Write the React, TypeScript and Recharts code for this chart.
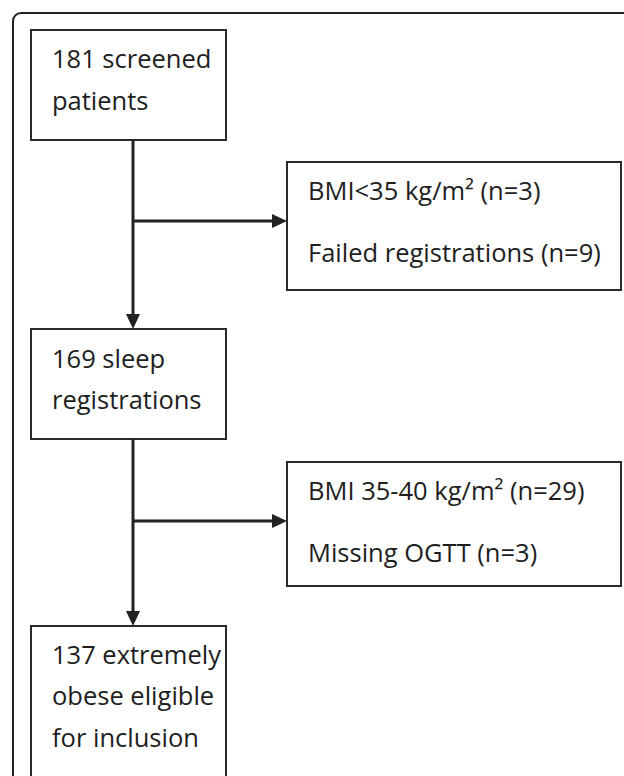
import React from "react"
import { ScatterChart, Scatter, XAxis, YAxis, ReferenceArea, ReferenceLine } from "recharts"

const W = 624
const H = 776

// flow boxes, in page units (x to the right, y downward)
const BOXES = [
  { id: "screened", x1: 31, x2: 226, y1: 30, y2: 140 },
  { id: "excluded1", x1: 287, x2: 621, y1: 162, y2: 290 },
  { id: "sleep", x1: 31, x2: 226, y1: 329, y2: 439 },
  { id: "excluded2", x1: 287, x2: 621, y1: 462, y2: 586 },
  { id: "eligible", x1: 31, x2: 226, y1: 626, y2: 800 },
]

const LINES = [
  { id: "v1", x: 133, y: 140, x2: 133, y2: 318 },
  { id: "h1", x: 133, y: 221, x2: 276, y2: 221 },
  { id: "v2", x: 133, y: 439, x2: 133, y2: 615 },
  { id: "h2", x: 133, y: 521, x2: 276, y2: 521 },
]

const ARROWS = [
  { x: 133, y: 329, dir: "down" },
  { x: 287, y: 221, dir: "right" },
  { x: 133, y: 626, dir: "down" },
  { x: 287, y: 521, dir: "right" },
]

const LABELS = [
  { x: 52, y: 68, text: "181 screened" },
  { x: 52, y: 110, text: "patients" },
  { x: 308, y: 200, text: "BMI<35 kg/m² (n=3)" },
  { x: 308, y: 262, text: "Failed registrations (n=9)" },
  { x: 52, y: 368, text: "169 sleep" },
  { x: 52, y: 409, text: "registrations" },
  { x: 308, y: 500, text: "BMI 35-40 kg/m² (n=29)" },
  { x: 308, y: 562, text: "Missing OGTT (n=3)" },
  { x: 52, y: 664, text: "137 extremely" },
  { x: 52, y: 705, text: "obese eligible" },
  { x: 52, y: 747, text: "for inclusion" },
]

const INK = "#222222"

function LabelShape(props: any) {
  const { cx, cy, payload } = props
  return (
    <text x={cx} y={cy} fill="#1e1e1e" fontFamily="'Open Sans', sans-serif" fontSize={25.5}>
      {payload.text}
    </text>
  )
}

function ArrowShape(props: any) {
  const { cx, cy, payload } = props
  const len = 15
  const half = 7
  const d = payload.dir === "down"
    ? `M${cx},${cy} L${cx - half},${cy - len} L${cx + half},${cy - len} Z`
    : `M${cx},${cy} L${cx - len},${cy - half} L${cx - len},${cy + half} Z`
  return <path d={d} fill={INK} />
}

export default function App() {
  return (
    <div style={{ position: "absolute", left: 0, top: 0, width: W, height: H, overflow: "hidden", background: "#fff" }}>
      <div
        style={{
          position: "absolute", left: 12, top: 12, width: W + 40, height: H + 40,
          borderTop: "2px solid #222", borderLeft: "2px solid #222", borderTopLeftRadius: 9,
        }}
      />
      <div style={{ position: "absolute", left: 0, top: 0 }}>
        <ScatterChart width={W} height={H} margin={{ top: 0, right: 0, bottom: 0, left: 0 }}>
          <XAxis type="number" dataKey="x" domain={[0, W]} hide allowDataOverflow />
          <YAxis type="number" dataKey="y" domain={[0, H]} reversed hide allowDataOverflow />
          {BOXES.map((b) => (
            <ReferenceArea
              key={b.id}
              x1={b.x1} x2={b.x2} y1={b.y1} y2={b.y2}
              fill="#fff" fillOpacity={0}
              stroke="#2a2a2a" strokeWidth={2}
              ifOverflow="hidden"
            />
          ))}
          {LINES.map((l) => (
            <ReferenceLine
              key={l.id}
              segment={[{ x: l.x, y: l.y }, { x: l.x2, y: l.y2 }]}
              stroke={INK} strokeWidth={3}
              ifOverflow="visible"
            />
          ))}
          <Scatter data={ARROWS} shape={<ArrowShape />} isAnimationActive={false} />
          <Scatter data={LABELS} shape={<LabelShape />} isAnimationActive={false} />
        </ScatterChart>
      </div>
    </div>
  )
}
